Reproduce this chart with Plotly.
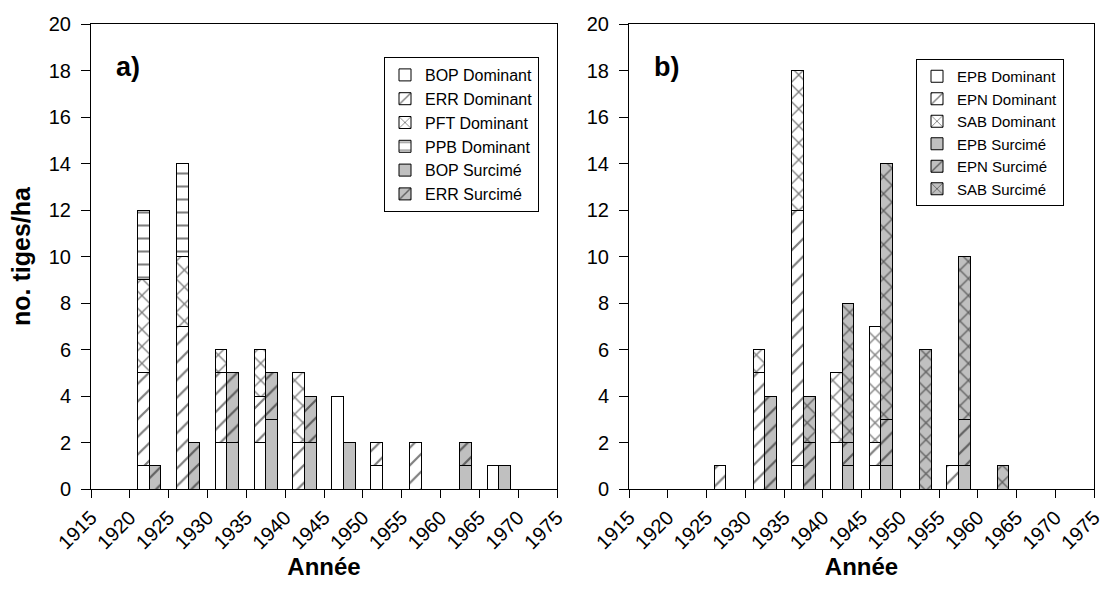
import plotly.graph_objects as go

# ---------------- data ----------------
bins = [1922.5, 1927.5, 1932.5, 1937.5, 1942.5, 1947.5, 1952.5, 1957.5, 1962.5, 1967.5]

# panel a
a_bop_dom = [1, 0, 2, 2, 0, 4, 1, 0, 0, 1]
a_err_dom = [4, 7, 3, 2, 2, 0, 1, 2, 0, 0]
a_pft_dom = [4, 3, 1, 2, 3, 0, 0, 0, 0, 0]
a_ppb_dom = [3, 4, 0, 0, 0, 0, 0, 0, 0, 0]
a_bop_sur = [0, 0, 2, 3, 2, 2, 0, 0, 1, 1]
a_err_sur = [1, 2, 3, 2, 2, 0, 0, 0, 1, 0]

# panel b
b_epb_dom = [0, 0, 0, 1, 2, 1, 0, 0, 0, 0]
b_epn_dom = [0, 1, 5, 11, 0, 1, 0, 1, 0, 0]
b_sab_dom = [0, 0, 1, 6, 3, 5, 0, 0, 0, 0]
b_epb_sur = [0, 0, 0, 0, 1, 1, 0, 1, 0, 0]
b_epn_sur = [0, 0, 4, 2, 1, 2, 0, 2, 0, 0]
b_sab_sur = [0, 0, 0, 2, 6, 11, 6, 7, 1, 0]

x_ticks = list(range(1915, 1980, 5))
y_ticks = list(range(0, 22, 2))

BAR_W = 1.5
GREY = "#c0c0c0"
FONT = "Liberation Sans, Arial, sans-serif"

W, H = 1107, 590
ML, MR, MT, MB = 0, 0, 24, 101
PW = W - ML - MR
PH = H - MT - MB

dom_x = [b - BAR_W / 2 for b in bins]
sur_x = [b + BAR_W / 2 for b in bins]


def nz(vals):
    return [v if v else None for v in vals]


def pat(shape):
    if shape == "":
        return dict(shape="")
    if shape == "x":
        return dict(shape="x", size=12, solidity=0.21, fgcolor="black")
    if shape == "-":
        return dict(shape="-", size=13, solidity=0.16, fgcolor="black")
    return dict(shape="/", size=12.5, solidity=0.18, fgcolor="black")


fig = go.Figure()

panel_a = [
    ("BOP Dominant", dom_x, a_bop_dom, "white", ""),
    ("ERR Dominant", dom_x, a_err_dom, "white", "/"),
    ("PFT Dominant", dom_x, a_pft_dom, "white", "x"),
    ("PPB Dominant", dom_x, a_ppb_dom, "white", "-"),
    ("BOP Surcimé", sur_x, a_bop_sur, GREY, ""),
    ("ERR Surcimé", sur_x, a_err_sur, GREY, "/"),
]
panel_b = [
    ("EPB Dominant", dom_x, b_epb_dom, "white", ""),
    ("EPN Dominant", dom_x, b_epn_dom, "white", "/"),
    ("SAB Dominant", dom_x, b_sab_dom, "white", "x"),
    ("EPB Surcimé", sur_x, b_epb_sur, GREY, ""),
    ("EPN Surcimé", sur_x, b_epn_sur, GREY, "/"),
    ("SAB Surcimé", sur_x, b_sab_sur, GREY, "x"),
]

for name, xs, vals, col, shp in panel_a:
    fig.add_trace(go.Bar(
        name=name, x=xs, y=nz(vals), width=BAR_W,
        marker=dict(color=col, line=dict(color="black", width=1), pattern=pat(shp)),
        xaxis="x", yaxis="y", legend="legend",
    ))
for name, xs, vals, col, shp in panel_b:
    fig.add_trace(go.Bar(
        name=name, x=xs, y=nz(vals), width=BAR_W,
        marker=dict(color=col, line=dict(color="black", width=1), pattern=pat(shp)),
        xaxis="x2", yaxis="y2", legend="legend2",
    ))

common_x = dict(
    range=[1915, 1975], tickvals=x_ticks, tickangle=-45,
    ticks="outside", ticklen=8, tickcolor="black", tickwidth=1,
    showline=True, linecolor="black", linewidth=1, mirror=True,
    showgrid=False, zeroline=False, ticklabeloverflow="allow",
    tickfont=dict(family=FONT, size=20, color="black"),
    title=dict(text="<b>Année</b>", font=dict(family=FONT, size=24, color="black"), standoff=4),
)
common_y = dict(
    range=[0, 20], tickvals=y_ticks,
    ticks="outside", ticklen=9, tickcolor="black", tickwidth=1,
    showline=True, linecolor="black", linewidth=1, mirror=True,
    showgrid=False, zeroline=False, ticklabelstandoff=6,
    tickfont=dict(family=FONT, size=20, color="black"),
)

legend_common = dict(
    bgcolor="white", bordercolor="black", borderwidth=1,
    xanchor="left", yanchor="top", traceorder="normal",
    itemclick=False, itemdoubleclick=False,
)

fig.update_layout(
    width=W, height=H,
    margin=dict(l=ML, r=MR, t=MT, b=MB, autoexpand=False),
    paper_bgcolor="white", plot_bgcolor="white",
    barmode="stack",
    font=dict(family=FONT, color="black"),
    xaxis=dict(domain=[91 / PW, 557 / PW], anchor="y", **common_x),
    yaxis=dict(anchor="x",
               title=dict(text="<b>no. tiges/ha</b>", font=dict(family=FONT, size=25, color="black"), standoff=11),
               **common_y),
    xaxis2=dict(domain=[629 / PW, 1094 / PW], anchor="y2", **common_x),
    yaxis2=dict(anchor="x2", **common_y),
    legend=dict(x=384 / PW, y=(489 - 57) / PH, font=dict(family=FONT, size=16, color="black"), **legend_common),
    legend2=dict(x=916 / PW, y=(489 - 59) / PH, font=dict(family=FONT, size=15, color="black"), **legend_common),
    annotations=[
        dict(text="<b>a)</b>", xref="x domain", yref="y domain", x=0.05, y=0.907,
             xanchor="left", yanchor="middle", showarrow=False,
             font=dict(family=FONT, size=27, color="black")),
        dict(text="<b>b)</b>", xref="x2 domain", yref="y2 domain", x=0.05, y=0.907,
             xanchor="left", yanchor="middle", showarrow=False,
             font=dict(family=FONT, size=27, color="black")),
    ],
)

fig.write_html(
    "out.html",
    config={"displayModeBar": False},
    post_script="document.body.style.margin='0';document.body.style.overflow='hidden';",
)
